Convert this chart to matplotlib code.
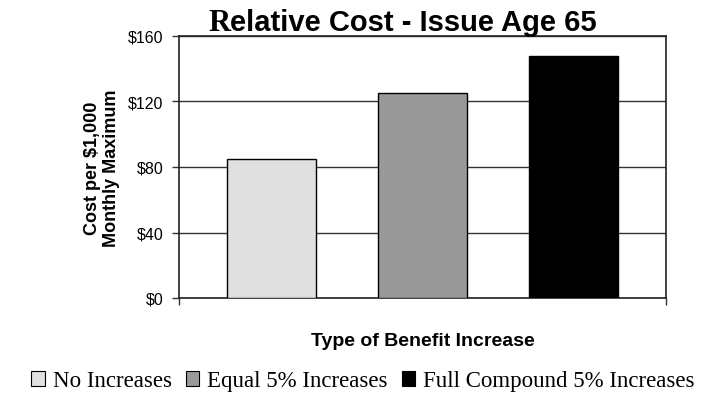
import matplotlib
matplotlib.use("Agg")
import matplotlib.pyplot as plt
from matplotlib.patches import Patch

# data
series = ["No Increases", "Equal 5% Increases", "Full Compound 5% Increases"]
costs = [85, 125, 148]
colors = ["#e0e0e0", "#999999", "#000000"]
yticks = [0, 40, 80, 120, 160]

narrow = ["Liberation Sans Narrow", "Liberation Sans", "DejaVu Sans"]
serif = ["Liberation Serif", "DejaVu Serif"]

fig = plt.figure(figsize=(7.27, 4.06), dpi=100)
ax = fig.add_axes([179 / 727, 1 - 299 / 406, 487 / 727, 262 / 406])

xs = list(range(len(costs)))
ax.bar(xs, costs, width=0.59, color=colors, edgecolor="black", linewidth=1, zorder=3)

ax.set_xlim(-0.61, 2.61)
ax.set_ylim(0, 160)
ax.set_yticks(yticks)
ax.set_yticklabels(["$%d" % v for v in yticks], family=narrow, fontsize=11.5)
ax.set_xticks([-0.61, 2.61])
ax.set_xticklabels([])
ax.tick_params(axis="y", length=5, width=1, pad=6, color="#333333")
ax.tick_params(axis="x", length=5, width=1, color="#333333")
ax.yaxis.grid(True, color="#333333", linewidth=1, zorder=0)
for s in ax.spines.values():
    s.set_color("#222222")
    s.set_linewidth(1.2)

ax.set_ylabel("Cost per $1,000\nMonthly Maximum", family=narrow, fontsize=13,
              fontweight="bold", labelpad=6, linespacing=1.15)
ax.set_xlabel("Type of Benefit Increase", family=narrow, fontsize=14,
              fontweight="bold", labelpad=16)

# title: first letter comes out in a serif face in the original
t1 = fig.text(208 / 727, 1 - 30.7 / 406, "R", family=serif, fontweight="bold",
              fontsize=22, va="baseline", ha="left")
fig.canvas.draw()
bb = t1.get_window_extent()
fig.text(bb.x1 / 727, 1 - 30.7 / 406, "elative Cost - Issue Age 65", family=narrow,
         fontweight="bold", fontsize=21, va="baseline", ha="left")

handles = [Patch(facecolor=c, edgecolor="black", linewidth=0.8) for c in colors]
fig.legend(handles, series, loc="center", bbox_to_anchor=(363 / 727, 1 - 382 / 406),
           ncol=3, frameon=False, prop={"family": serif, "size": 16.5},
           handlelength=0.6, handleheight=0.6, handletextpad=0.35,
           columnspacing=0.6, borderpad=0)

fig.savefig("out.png", dpi=100)
